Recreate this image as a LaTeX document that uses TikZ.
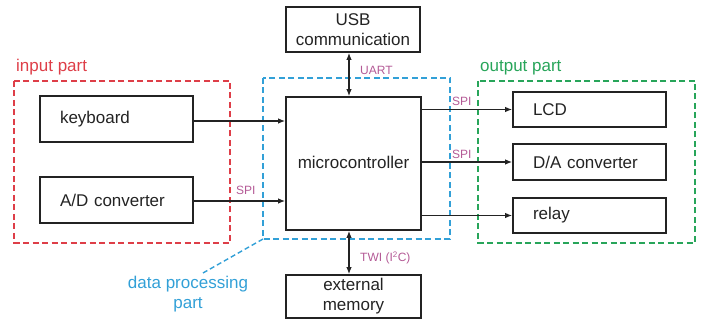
\documentclass[tikz,border=0pt]{standalone}
\usepackage{fontspec}
\setmainfont{Liberation Sans}
\usetikzlibrary{arrows.meta}
\definecolor{inred}{RGB}{222,62,72}
\definecolor{outgreen}{RGB}{40,165,90}
\definecolor{procblue}{RGB}{50,160,215}
\definecolor{buslabel}{RGB}{180,90,150}
\definecolor{ink}{RGB}{35,35,35}
\tikzset{
  blk/.style={draw=ink, line width=1.8pt, text=ink, font=\fontsize{17}{20}\selectfont},
  leftblk/.style={blk, text width=113pt, align=left, inner xsep=20pt, inner ysep=0pt},
  midblk/.style={blk, align=center, inner sep=0pt},
  link/.style={draw=ink, line width=1.1pt, -{Latex[length=7pt,width=5.5pt]}},
  duplex/.style={draw=ink, line width=1.1pt, {Latex[length=7pt,width=5.5pt]}-{Latex[length=7pt,width=5.5pt]}},
  bus/.style={text=buslabel, font=\fontsize{12}{14}\selectfont, inner sep=0pt},
  group/.style={line width=1.4pt, dash pattern=on 6pt off 3.5pt},
  grouptitle/.style={font=\fontsize{17}{20}\selectfont, inner sep=0pt},
}
\begin{document}
\begin{tikzpicture}[x=1pt,y=-1pt]
\useasboundingbox (0,0) rectangle (702,320);

% group frames
\draw[group, draw=inred] (14,81) rectangle (230,243);
\draw[group, draw=procblue] (263,78) rectangle (450,239);
\draw[group, draw=outgreen] (478,81) rectangle (695,243);
\node[grouptitle, text=inred, anchor=west] (intitle) at (16,67) {input part};
\node[grouptitle, text=outgreen, anchor=west] (outtitle) at (480,68) {output part};
\node[grouptitle, text=procblue, align=center] (proctitle) at (188,294) {data processing\\part};
\coordinate (proccorner) at (263,239);
\coordinate (proctip) at (203,273);
\draw[group, draw=procblue, dash pattern=on 5pt off 3pt] (proccorner) -- (proctip);

% blocks
\node[leftblk, minimum height=46pt] (kbd) at (116.5,119) {keyboard};
\node[leftblk, minimum height=46pt] (adc) at (116.5,200) {A/D converter};
\node[midblk, minimum width=134pt, minimum height=45pt] (usb) at (353,29.5) {USB\\communication};
\node[midblk, minimum width=135pt, minimum height=133pt] (mcu) at (353.5,163.5) {\raisebox{2pt}{microcontroller}};
\node[midblk, minimum width=135pt, minimum height=43pt] (mem) at (353.5,296.5) {external\\memory};
\node[leftblk, minimum height=35pt] (lcd) at (589.5,109.5) {LCD};
\node[leftblk, minimum height=36pt] (dac) at (589.5,162) {D/A converter};
\node[leftblk, minimum height=35pt] (relay) at (589.5,215.5) {relay};

% connections
\draw[link] ([yshift=-2pt]kbd.east) -- ([yshift=-2pt]kbd.east -| mcu.west);
\draw[link] ([yshift=-1pt]adc.east) -- ([yshift=-1pt]adc.east -| mcu.west);
\draw[link] (lcd.west -| mcu.east) -- (lcd.west);
\draw[link] (dac.west -| mcu.east) -- (dac.west);
\draw[link] (relay.west -| mcu.east) -- (relay.west);
\draw[duplex] (usb.south -| 349,0) -- (mcu.north -| 349,0);
\draw[duplex] (mcu.south -| 349,0) -- (mem.north -| 349,0);

% bus labels
\node[bus, anchor=west] (spiin) at (236,190) {SPI};
\node[bus, anchor=west] (spilcd) at (452,101) {SPI};
\node[bus, anchor=west] (spidac) at (452,154) {SPI};
\node[bus, anchor=west] (uart) at (360,70) {UART};
\node[bus, anchor=west] (twi) at (360,258) {TWI (I\textsuperscript{2}C)};
\end{tikzpicture}
\end{document}
